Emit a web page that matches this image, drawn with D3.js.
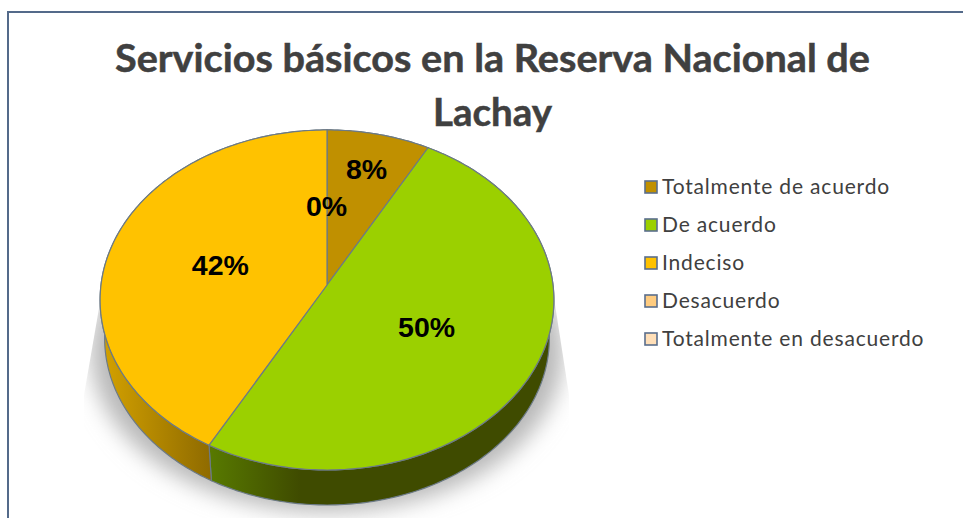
<!DOCTYPE html>
<html>
<head>
<meta charset="utf-8">
<script src="https://cdn.jsdelivr.net/npm/d3@7"></script>
<style>
html,body{margin:0;padding:0;background:#fff;overflow:hidden}
svg{display:block}
</style>
</head>
<body>
<svg id="chart" width="963" height="518"></svg>
<script>
const titleLines = ["Servicios básicos en la Reserva Nacional de", "Lachay"];
const categories = ["Totalmente de acuerdo", "De acuerdo", "Indeciso", "Desacuerdo", "Totalmente en desacuerdo"];
const percentValues = [8, 50, 42, 0, 0];
const percentLabels = ["8%", "50%", "42%", "0%", ""];
const sliceColors = ["#c09000", "#9bd000", "#ffc200", "#ffcc80", "#ffdfb8"];

const W = 963, H = 518;
const svg = d3.select("#chart").attr("viewBox", `0 0 ${W} ${H}`);
const defs = svg.append("defs");

// perspective view of a tilted disc
const view = {cx: 327, cy: 285, r: 226, k: 168.7, p: 0.088, baseScale: 0.98, baseCy: 323.7};
function project(angle, frac = 1, base = false) {
  const X = Math.sin(angle) * frac, Y = Math.cos(angle) * frac;
  const d = 1 + view.p * Y;
  const s = base ? view.baseScale : 1;
  return [view.cx + s * view.r * X / d, (base ? view.baseCy : view.cy) - s * view.k * Y / d];
}
const STEP = Math.PI / 180;
function arcAngles(a0, a1) {
  const n = Math.max(2, Math.ceil((a1 - a0) / STEP) + 1);
  return d3.range(n).map(i => a0 + (a1 - a0) * i / (n - 1));
}
const line = d3.line();
const slices = d3.pie().sort(null).value(d => d)(percentValues);
const rim = a => arcAngles(a.startAngle, a.endAngle);

// soft shadow
defs.append("filter").attr("id", "blur")
  .attr("x", "-30%").attr("y", "-30%").attr("width", "160%").attr("height", "160%")
  .append("feGaussianBlur").attr("stdDeviation", 11);
defs.append("clipPath").attr("id", "shadowClip").append("path")
  .attr("d", line([[103, 285], [552, 285], [569, 395], [569, 518], [84, 518], [84, 395]]) + "Z");
svg.append("g").attr("clip-path", "url(#shadowClip)")
  .append("ellipse")
  .attr("cx", 327).attr("cy", 352).attr("rx", 236).attr("ry", 160)
  .attr("fill", "#b8b8b8").attr("filter", "url(#blur)");

// wall gradients
function wallGradient(id, x1, x2, c1, c2) {
  const g = defs.append("linearGradient").attr("id", id)
    .attr("gradientUnits", "userSpaceOnUse").attr("x1", x1).attr("x2", x2).attr("y1", 0).attr("y2", 0);
  g.append("stop").attr("offset", 0).attr("stop-color", c1);
  g.append("stop").attr("offset", 1).attr("stop-color", c2);
}
wallGradient("wall0", 327, 430, "#7a5c00", "#7a5c00");
wallGradient("wall1", 209, 300, "#587a00", "#3f4b00");
wallGradient("wall2", 105, 212, "#d2a000", "#8e6a00");

const OUT = "#6c7a86";

svg.append("g").selectAll("path").data(slices.filter(d => d.value > 0)).join("path")
  .attr("d", d => {
    const as = rim(d);
    return line(as.map(a => project(a)).concat(as.slice().reverse().map(a => project(a, 1, true)))) + "Z";
  })
  .attr("fill", (d, i) => `url(#wall${i})`)
  .attr("stroke", OUT).attr("stroke-width", 1.2).attr("stroke-linejoin", "round");

svg.append("g").selectAll("path").data(slices.filter(d => d.value > 0)).join("path")
  .attr("d", d => line([project(0, 0)].concat(rim(d).map(a => project(a)))) + "Z")
  .attr("fill", d => sliceColors[d.index])
  .attr("stroke", OUT).attr("stroke-width", 1.2).attr("stroke-linejoin", "round");

// frame
svg.append("path").attr("d", line([[8, H], [8, 12], [W, 12]]))
  .attr("fill", "none").attr("stroke", "#546a8a").attr("stroke-width", 2);

// title
const titleWidths = [755, 119];
svg.append("g").selectAll("text").data(titleLines).join("text")
  .attr("x", 492.5).attr("y", (d, i) => 72 + i * 54)
  .attr("text-anchor", "middle")
  .attr("textLength", (d, i) => titleWidths[i]).attr("lengthAdjust", "spacingAndGlyphs")
  .attr("font-family", "Lato").attr("font-weight", 700).attr("font-size", 37.5)
  .attr("fill", "#404040").attr("stroke", "#404040").attr("stroke-width", 0.5).text(d => d);

// data labels
const labelFrac = [0.76, 0.495, 0.49, 0.49, 0.49];
svg.append("g").selectAll("text")
  .data(slices.filter(d => percentLabels[d.index] !== "")).join("text")
  .attr("transform", d => {
    const m = (d.startAngle + d.endAngle) / 2;
    const [x, y] = project(m, labelFrac[d.index]);
    return `translate(${x - 0.5},${y + 0.5})`;
  })
  .attr("text-anchor", "middle").attr("dy", "0.35em")
  .attr("font-family", "Liberation Sans").attr("font-weight", 700).attr("font-size", 28.5)
  .attr("fill", "#000").text(d => percentLabels[d.index]);

// legend
const legendY = d3.scalePoint().domain(categories).range([187, 339]);
const legend = svg.append("g").selectAll("g").data(categories).join("g")
  .attr("transform", d => `translate(645,${legendY(d)})`);
legend.append("rect").attr("x", 0).attr("y", -6).attr("width", 12).attr("height", 12)
  .attr("fill", (d, i) => sliceColors[i]).attr("stroke", "#5a6e8c").attr("stroke-width", 1.6);
legend.append("text").attr("x", 17).attr("y", 7)
  .attr("font-family", "Lato").attr("font-size", 21).attr("letter-spacing", 0.82)
  .attr("fill", "#404040").text(d => d);
</script>
</body>
</html>
